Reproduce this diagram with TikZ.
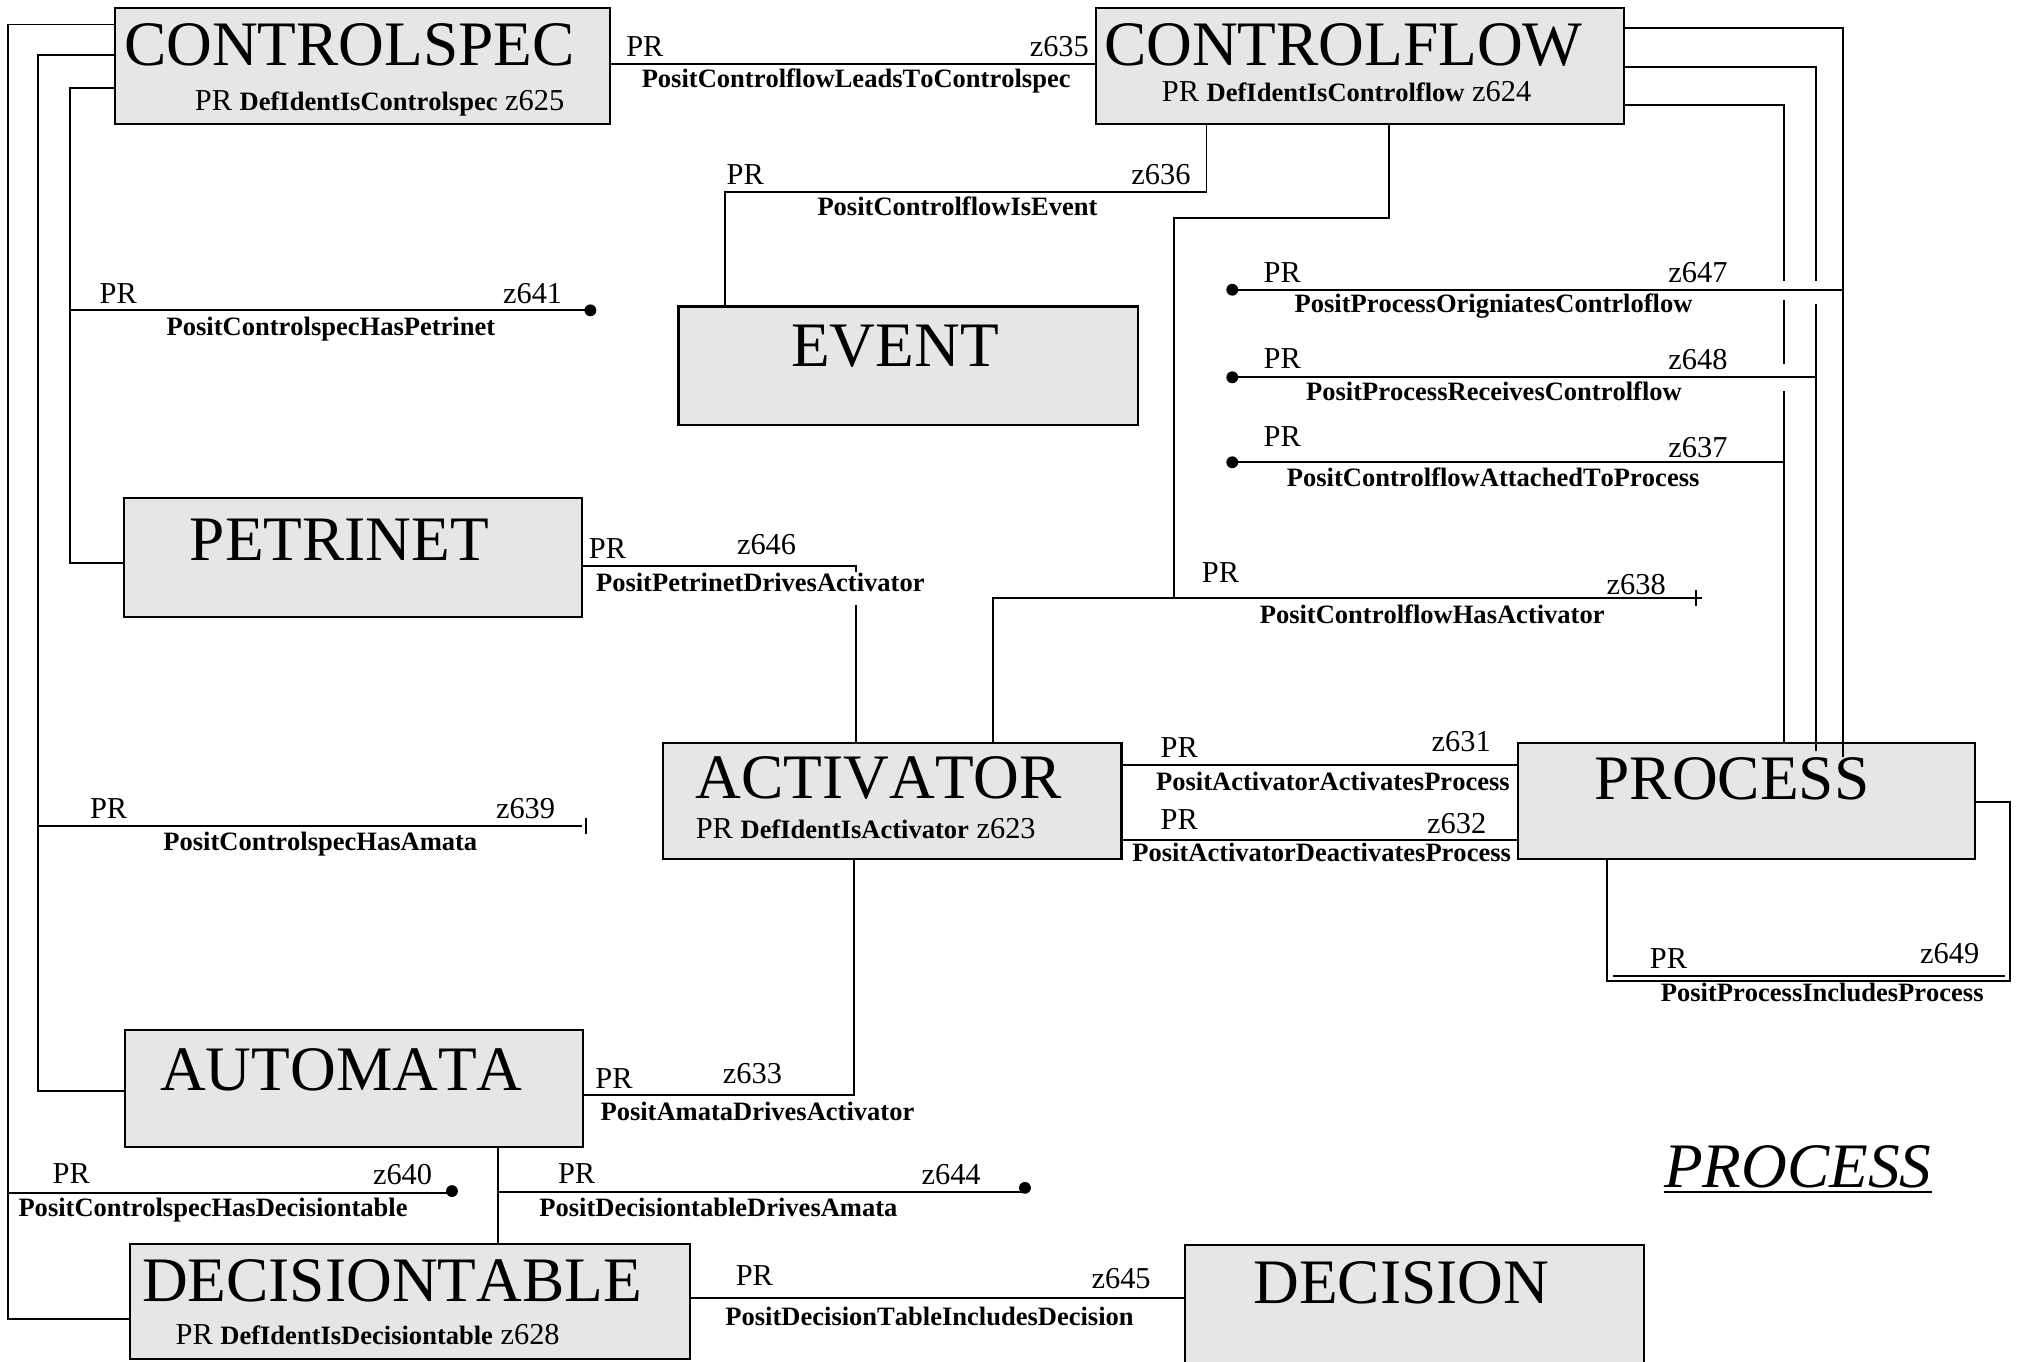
\documentclass[tikz,border=0pt]{standalone}
\usepackage{fontspec}
\setmainfont[Kerning=Off]{Liberation Serif}
\usetikzlibrary{calc}
\definecolor{boxgray}{RGB}{230,230,230}
\newcommand{\bigf}{\fontsize{24.6pt}{28pt}\selectfont}
\newcommand{\labf}{\fontsize{11.8pt}{14pt}\selectfont}
\newcommand{\boldf}{\fontsize{10.3pt}{12pt}\selectfont\bfseries}
\begin{document}
\begin{tikzpicture}[x=0.5pt,y=-0.5pt,
  ebox/.style={draw=black,line width=0.85pt,fill=boxgray,anchor=north west,inner sep=0pt,outer sep=0pt},
  con/.style={draw=black,line width=0.75pt},
  ttl/.style={anchor=base west,inner sep=0pt,font=\bigf},
  prlab/.style={anchor=base west,inner sep=0pt,font=\labf},
  zr/.style={anchor=base east,inner sep=0pt,font=\labf},
  zl/.style={anchor=base west,inner sep=0pt,font=\labf},
  rel/.style={anchor=base west,inner sep=0pt,font=\boldf},
  sublab/.style={anchor=base west,inner sep=0pt,font=\labf}]
\clip (0,0) rectangle (1568,1057);
\fill[white] (0,0) rectangle (1568,1057);

% ---------- boxes ----------
\node[ebox,minimum width=192.5pt,minimum height=45pt] (cs) at (89,6) {};
\node[ebox,minimum width=205pt,minimum height=45pt] (cf) at (851,6) {};
\node[ebox,minimum width=178.5pt,minimum height=46pt] (ev) at (527,238) {};
\node[ebox,minimum width=178pt,minimum height=46pt] (pn) at (96,387) {};
\node[ebox,minimum width=178pt,minimum height=45pt] (ac) at (515,577) {};
\node[ebox,minimum width=177.5pt,minimum height=45pt] (pr) at (1179,577) {};
\node[ebox,minimum width=178pt,minimum height=45.5pt] (au) at (97,800) {};
\node[ebox,minimum width=217.5pt,minimum height=44.6pt] (dt) at (101,966) {};
\node[ebox,minimum width=178.5pt,minimum height=52pt] (de) at (920,967) {};

% ---------- box texts ----------
\node[ttl] (t-cs) at (96,50.5) {CONTROLSPEC};
\node[sublab] (s-cs) at (151,86) {PR {\boldf DefIdentIsControlspec} z625};
\node[ttl] (t-cf) at (857,50.5) {CONTROLFLOW};
\node[sublab] (s-cf) at (902,79) {PR {\boldf DefIdentIsControlflow} z624};
\node[ttl] (t-ev) at (614,285) {EVENT};
\node[ttl] (t-pn) at (147,435) {PETRINET};
\node[ttl] (t-ac) at (540,620) {ACTIVATOR};
\node[sublab] (s-ac) at (540,651) {PR {\boldf DefIdentIsActivator} z623};
\node[ttl] (t-pr) at (1238,621) {PROCESS};
\node[ttl] (t-au) at (124,847) {AUTOMATA};
\node[ttl] (t-dt) at (110,1011) {DECISIONTABLE};
\node[sublab] (s-dt) at (136,1044) {PR {\boldf DefIdentIsDecisiontable} z628};
\node[ttl] (t-de) at (973,1012) {DECISION};

% ---------- free ends ----------
\coordinate (d641) at (458.5,241);
\coordinate (e639) at (452,641.5);
\coordinate (d640) at (351,926.5);
\coordinate (d644) at (795,926);
\coordinate (e638) at (1322,464.5);
\coordinate (d647) at (957,225);
\coordinate (d648) at (957,293);
\coordinate (d637) at (957,359);

% ---------- connectors ----------
% CONTROLSPEC - CONTROLFLOW
\draw[con] (cs.east |- 0,49.5) -- (cf.west |- 0,49.5);
\node[prlab] (p635) at (486,44) {PR};
\node[zr] (z635) at (846,44) {z635};
\node[rel] (r635) at (498,68) {PositControlflowLeadsToControlspec};

% CONTROLFLOW - EVENT
\draw[con] (937,0 |- cf.south) -- (937,149) -- (563,149) -- (563,0 |- ev.north);
\node[prlab] (p636) at (564,143) {PR};
\node[zr] (z636) at (925,143) {z636};
\node[rel] (r636) at (634.5,167.5) {PositControlflowIsEvent};

% CONTROLFLOW - ACTIVATOR
\draw[con] (1078.5,0 |- cf.south) -- (1078.5,169) -- (912,169) -- (912,464.5);
\draw[con] (771,0 |- ac.north) -- (771,464.5) -- (e638);
\draw[con] (1317,458) -- (1317,471);
\node[prlab] (p638) at (933,452) {PR};
\node[zr] (z638) at (1294,462) {z638};
\node[rel] (r638) at (978,484) {PositControlflowHasActivator};

% CONTROLFLOW - PROCESS (three lines)
\draw[con] (cf.east |- 0,22) -- (1431,22) -- (1431,588);
\draw[con] (cf.east |- 0,52) -- (1410,52) -- (1410,218) (1410,236) -- (1410,583);
\draw[con] (cf.east |- 0,81.5) -- (1385.5,81.5) -- (1385.5,218) (1385.5,233) -- (1385.5,283) (1385.5,304) -- (1385.5,0 |- pr.north);

\draw[con] (d647) -- (1431,225);
\fill (d647) circle[radius=2.3pt];
\node[prlab] (p647) at (981,219) {PR};
\node[zr] (z647) at (1342,219) {z647};
\node[rel] (r647) at (1005,243) {PositProcessOrigniatesContrloflow};

\draw[con] (d648) -- (1410,293);
\fill (d648) circle[radius=2.3pt];
\node[prlab] (p648) at (981,286) {PR};
\node[zr] (z648) at (1342,287) {z648};
\node[rel] (r648) at (1014,311) {PositProcessReceivesControlflow};

\draw[con] (d637) -- (1385.5,359);
\fill (d637) circle[radius=2.3pt];
\node[prlab] (p637) at (981,347) {PR};
\node[zr] (z637) at (1342,355) {z637};
\node[rel] (r637) at (999,378) {PositControlflowAttachedToProcess};

% CONTROLSPEC left lines
\draw[con] (cs.west |- 0,19) -- (6,19) -- (6,1024.5) -- (dt.west |- 0,1024.5);
\draw[con] (cs.west |- 0,43) -- (29.5,43) -- (29.5,847) -- (au.west |- 0,847);
\draw[con] (cs.west |- 0,68) -- (54.5,68) -- (54.5,437.5) -- (pn.west |- 0,437.5);

\draw[con] (54.5,241) -- (d641);
\fill (d641) circle[radius=2.3pt];
\node[prlab] (p641) at (77,236) {PR};
\node[zr] (z641) at (437,236) {z641};
\node[rel] (r641) at (129,260.5) {PositControlspecHasPetrinet};

\draw[con] (29.5,641.5) -- (e639);
\draw[con] (455,635) -- (455,648);
\node[prlab] (p639) at (69.5,636) {PR};
\node[zr] (z639) at (431.5,636) {z639};
\node[rel] (r639) at (126.5,660.5) {PositControlspecHasAmata};

\draw[con] (6,926.5) -- (d640);
\fill (351,925) circle[radius=2.3pt];
\node[prlab] (p640) at (40.5,919) {PR};
\node[zr] (z640) at (336,920) {z640};
\node[rel] (r640) at (14,944.5) {PositControlspecHasDecisiontable};

% PETRINET - ACTIVATOR
\draw[con] (pn.east |- 0,439.5) -- (664.5,439.5) -- (664.5,444) (664.5,470) -- (664.5,0 |- ac.north);
\node[prlab] (p646) at (457,434) {PR};
\node[zl] (z646) at (572,431) {z646};
\node[rel] (r646) at (462.5,459) {PositPetrinetDrivesActivator};

% AUTOMATA - ACTIVATOR
\draw[con] (au.east |- 0,850.6) -- (663.5,850.6) -- (663.5,0 |- ac.south);
\node[prlab] (p633) at (462,845.5) {PR};
\node[zl] (z633) at (561,841.5) {z633};
\node[rel] (r633) at (466,870) {PositAmataDrivesActivator};

% ACTIVATOR - PROCESS
\draw[con] (ac.east |- 0,594) -- (pr.west |- 0,594);
\node[prlab] (p631) at (901,588) {PR};
\node[zl] (z631) at (1111.5,583.5) {z631};
\node[rel] (r631) at (897.5,614) {PositActivatorActivatesProcess};

\draw[con] (ac.east |- 0,652) -- (pr.west |- 0,652);
\node[prlab] (p632) at (901,644) {PR};
\node[zl] (z632) at (1108,647) {z632};
\node[rel] (r632) at (879,669) {PositActivatorDeactivatesProcess};

% PROCESS - PROCESS
\draw[con] (pr.east |- 0,623) -- (1561.3,623) -- (1561.3,761.6) -- (1248.3,761.6) -- (1248.3,0 |- pr.south);
\draw[con] (1252.7,758.3) -- (1557.2,758.3);
\node[prlab] (p649) at (1281,752.5) {PR};
\node[zr] (z649) at (1537.5,748) {z649};
\node[rel] (r649) at (1289.5,778) {PositProcessIncludesProcess};

% AUTOMATA - DECISIONTABLE
\draw[con] (386.6,0 |- au.south) -- (386.6,0 |- dt.north);
\draw[con] (386.6,926) -- (d644);
\fill (796,922.5) circle[radius=2.3pt];
\node[prlab] (p644) at (433,919) {PR};
\node[zr] (z644) at (762,920) {z644};
\node[rel] (r644) at (418.5,944.5) {PositDecisiontableDrivesAmata};

% DECISIONTABLE - DECISION
\draw[con] (dt.east |- 0,1008.2) -- (de.west |- 0,1008.2);
\node[prlab] (p645) at (571,998.5) {PR};
\node[zr] (z645) at (894,1001) {z645};
\node[rel] (r645) at (563,1029.5) {PositDecisionTableIncludesDecision};

% title
\node[ttl,font=\bigf\itshape] (title) at (1292,922.6) {PROCESS};
\draw[line width=1pt] ($(title.base west)+(0,3)$) -- ($(title.base east)+(0,3)$);
\end{tikzpicture}
\end{document}
